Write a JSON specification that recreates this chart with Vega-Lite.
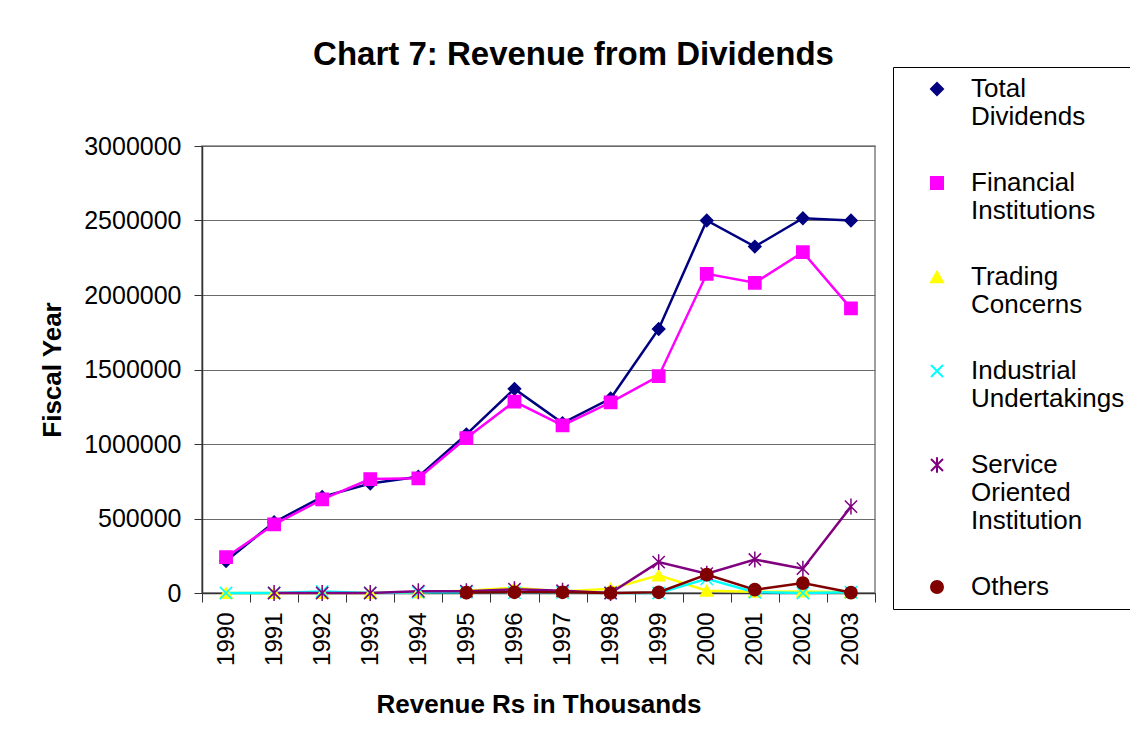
{
  "$schema": "https://vega.github.io/schema/vega-lite/v6.json",
  "width": 673,
  "height": 447,
  "autosize": {"type": "none"},
  "padding": {"left": 202, "top": 146, "right": 255, "bottom": 153},
  "background": "white",
  "title": {"text": "Chart 7: Revenue from Dividends", "font": "Liberation Sans", "fontSize": 33, "fontWeight": "bold", "color": "black", "anchor": "middle", "frame": "group", "dx": 35, "offset": -5},
  "data": {"values": [
    {"year": "1990", "series": "Total Dividends", "value": 215000},
    {"year": "1991", "series": "Total Dividends", "value": 475000},
    {"year": "1992", "series": "Total Dividends", "value": 645000},
    {"year": "1993", "series": "Total Dividends", "value": 735000},
    {"year": "1994", "series": "Total Dividends", "value": 780000},
    {"year": "1995", "series": "Total Dividends", "value": 1065000},
    {"year": "1996", "series": "Total Dividends", "value": 1370000},
    {"year": "1997", "series": "Total Dividends", "value": 1140000},
    {"year": "1998", "series": "Total Dividends", "value": 1305000},
    {"year": "1999", "series": "Total Dividends", "value": 1772000},
    {"year": "2000", "series": "Total Dividends", "value": 2500000},
    {"year": "2001", "series": "Total Dividends", "value": 2325000},
    {"year": "2002", "series": "Total Dividends", "value": 2515000},
    {"year": "2003", "series": "Total Dividends", "value": 2500000},
    {"year": "1990", "series": "Financial Institutions", "value": 240000},
    {"year": "1991", "series": "Financial Institutions", "value": 460000},
    {"year": "1992", "series": "Financial Institutions", "value": 628000},
    {"year": "1993", "series": "Financial Institutions", "value": 765000},
    {"year": "1994", "series": "Financial Institutions", "value": 770000},
    {"year": "1995", "series": "Financial Institutions", "value": 1040000},
    {"year": "1996", "series": "Financial Institutions", "value": 1285000},
    {"year": "1997", "series": "Financial Institutions", "value": 1125000},
    {"year": "1998", "series": "Financial Institutions", "value": 1280000},
    {"year": "1999", "series": "Financial Institutions", "value": 1455000},
    {"year": "2000", "series": "Financial Institutions", "value": 2142000},
    {"year": "2001", "series": "Financial Institutions", "value": 2082000},
    {"year": "2002", "series": "Financial Institutions", "value": 2287000},
    {"year": "2003", "series": "Financial Institutions", "value": 1910000},
    {"year": "1990", "series": "Trading Concerns", "value": 0},
    {"year": "1991", "series": "Trading Concerns", "value": 0},
    {"year": "1992", "series": "Trading Concerns", "value": 0},
    {"year": "1993", "series": "Trading Concerns", "value": 0},
    {"year": "1994", "series": "Trading Concerns", "value": 5000},
    {"year": "1995", "series": "Trading Concerns", "value": 15000},
    {"year": "1996", "series": "Trading Concerns", "value": 35000},
    {"year": "1997", "series": "Trading Concerns", "value": 10000},
    {"year": "1998", "series": "Trading Concerns", "value": 28000},
    {"year": "1999", "series": "Trading Concerns", "value": 118000},
    {"year": "2000", "series": "Trading Concerns", "value": 15000},
    {"year": "2001", "series": "Trading Concerns", "value": 8000},
    {"year": "2002", "series": "Trading Concerns", "value": 10000},
    {"year": "2003", "series": "Trading Concerns", "value": 5000},
    {"year": "1990", "series": "Industrial Undertakings", "value": 0},
    {"year": "1991", "series": "Industrial Undertakings", "value": 0},
    {"year": "1992", "series": "Industrial Undertakings", "value": 10000},
    {"year": "1993", "series": "Industrial Undertakings", "value": 0},
    {"year": "1994", "series": "Industrial Undertakings", "value": 5000},
    {"year": "1995", "series": "Industrial Undertakings", "value": 5000},
    {"year": "1996", "series": "Industrial Undertakings", "value": 3000},
    {"year": "1997", "series": "Industrial Undertakings", "value": 3000},
    {"year": "1998", "series": "Industrial Undertakings", "value": 0},
    {"year": "1999", "series": "Industrial Undertakings", "value": 0},
    {"year": "2000", "series": "Industrial Undertakings", "value": 95000},
    {"year": "2001", "series": "Industrial Undertakings", "value": 5000},
    {"year": "2002", "series": "Industrial Undertakings", "value": 0},
    {"year": "2003", "series": "Industrial Undertakings", "value": 5000},
    {"year": "1991", "series": "Service Oriented Institution", "value": 0},
    {"year": "1992", "series": "Service Oriented Institution", "value": 0},
    {"year": "1993", "series": "Service Oriented Institution", "value": 0},
    {"year": "1994", "series": "Service Oriented Institution", "value": 12000},
    {"year": "1995", "series": "Service Oriented Institution", "value": 12000},
    {"year": "1996", "series": "Service Oriented Institution", "value": 25000},
    {"year": "1997", "series": "Service Oriented Institution", "value": 15000},
    {"year": "1998", "series": "Service Oriented Institution", "value": 0},
    {"year": "1999", "series": "Service Oriented Institution", "value": 207000},
    {"year": "2000", "series": "Service Oriented Institution", "value": 130000},
    {"year": "2001", "series": "Service Oriented Institution", "value": 225000},
    {"year": "2002", "series": "Service Oriented Institution", "value": 163000},
    {"year": "2003", "series": "Service Oriented Institution", "value": 580000},
    {"year": "1995", "series": "Others", "value": 3000},
    {"year": "1996", "series": "Others", "value": 5000},
    {"year": "1997", "series": "Others", "value": 5000},
    {"year": "1998", "series": "Others", "value": 0},
    {"year": "1999", "series": "Others", "value": 5000},
    {"year": "2000", "series": "Others", "value": 123000},
    {"year": "2001", "series": "Others", "value": 22000},
    {"year": "2002", "series": "Others", "value": 67000},
    {"year": "2003", "series": "Others", "value": 3000}
  ]},
  "encoding": {
    "x": {
      "field": "year", "type": "ordinal",
      "scale": {"type": "band", "paddingInner": 0, "paddingOuter": 0},
      "axis": {
        "title": "Revenue Rs in Thousands", "titleFont": "Liberation Sans", "titleFontSize": 26, "titleFontWeight": "bold", "titleColor": "black", "titlePadding": 26,
        "labelAngle": -90, "labelFont": "Liberation Sans", "labelFontSize": 24, "labelColor": "black", "labelPadding": 10,
        "tickBand": "extent", "tickSize": 9, "tickColor": "#333", "domainColor": "#333", "domainWidth": 1.5, "grid": false
      }
    },
    "y": {
      "field": "value", "type": "quantitative",
      "scale": {"domain": [0, 3000000], "nice": false},
      "axis": {
        "title": "Fiscal Year", "titleFont": "Liberation Sans", "titleFontSize": 26, "titleFontWeight": "bold", "titleColor": "black", "titlePadding": 18,
        "values": [0, 500000, 1000000, 1500000, 2000000, 2500000, 3000000], "format": "d",
        "labelFont": "Liberation Sans", "labelFontSize": 25, "labelColor": "black", "labelPadding": 13,
        "tickSize": 8, "tickColor": "#333", "domainColor": "#333", "domainWidth": 1.5,
        "grid": true, "gridColor": "#6a6a6a", "gridWidth": 1
      }
    }
  },
  "layer": [
    {
      "mark": {"type": "line", "strokeWidth": 2.5},
      "encoding": {
        "color": {"field": "series", "type": "nominal",
          "scale": {"domain": ["Total Dividends", "Financial Institutions", "Trading Concerns", "Industrial Undertakings", "Service Oriented Institution", "Others"],
                    "range": ["#000080", "#FF00FF", "#FFFF00", "#00FFFF", "#800080", "#800000"]}}
      }
    },
    {
      "mark": {"type": "point", "filled": true, "size": 150, "strokeWidth": 1.5, "opacity": 1},
      "encoding": {
        "color": {"field": "series", "type": "nominal",
          "scale": {"domain": ["Total Dividends", "Financial Institutions", "Trading Concerns", "Industrial Undertakings", "Service Oriented Institution", "Others"],
                    "range": ["#000080", "#FF00FF", "#FFFF00", "#00FFFF", "#800080", "#800000"]},
          "legend": {"labelExpr": "split(datum.label, ' ')"}},
        "stroke": {"field": "series", "type": "nominal",
          "scale": {"domain": ["Total Dividends", "Financial Institutions", "Trading Concerns", "Industrial Undertakings", "Service Oriented Institution", "Others"],
                    "range": ["#000080", "#FF00FF", "#FFFF00", "#00FFFF", "#800080", "#800000"]}},
        "shape": {"field": "series", "type": "nominal",
          "scale": {"domain": ["Total Dividends", "Financial Institutions", "Trading Concerns", "Industrial Undertakings", "Service Oriented Institution", "Others"],
                    "range": ["diamond", "square", "triangle-up", "M-1,-1L1,1M-1,1L1,-1", "M-1,-1L1,1M-1,1L1,-1M0,-1.3V1.3", "circle"]},
          "legend": {"labelExpr": "split(datum.label, ' ')"}}
      }
    }
  ],
  "config": {
    "view": {"stroke": "#808080", "strokeWidth": 1.5},
    "font": "Liberation Sans",
    "legend": {
      "title": null, "orient": "none", "legendX": 691, "legendY": -79,
      "strokeColor": "black", "fillColor": "white", "padding": 9,
      "symbolSize": 144, "symbolOffset": 22, "labelOffset": 21, "symbolStrokeWidth": 2,
      "labelFont": "Liberation Sans", "labelFontSize": 26, "labelColor": "black", "labelLimit": 300,
      "rowPadding": 40
    }
  }
}
